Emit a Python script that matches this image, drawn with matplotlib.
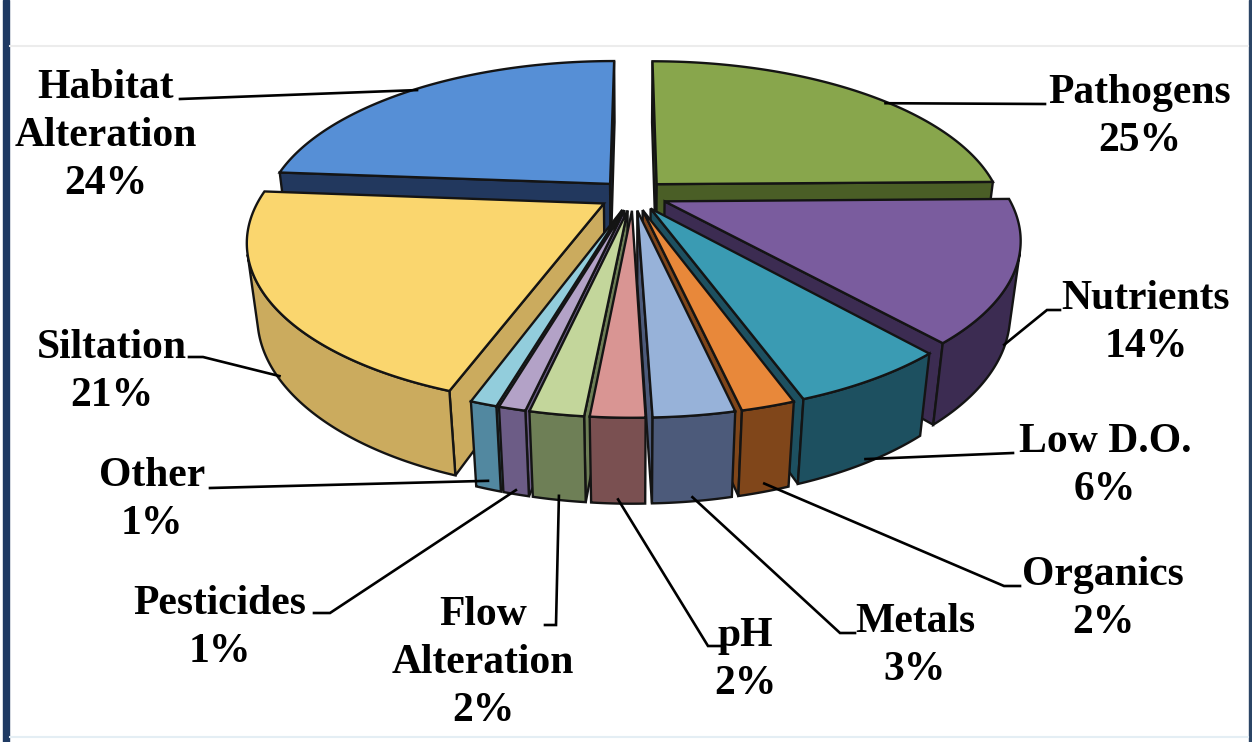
import numpy as np
import matplotlib.pyplot as plt
from matplotlib.patches import Polygon, Rectangle

# slices, clockwise from 12 o'clock
labels = ['Pathogens', 'Nutrients', 'Low D.O.', 'Organics', 'Metals', 'pH',
          'Flow\nAlteration', 'Pesticides', 'Other', 'Siltation', 'Habitat\nAlteration']
values = [25, 14, 6, 2, 3, 2, 2, 1, 1, 21, 24]

top_colors = ['#88a64c', '#7a5c9e', '#3a9bb3', '#e8883a', '#97b2d9', '#d99593',
              '#c3d69b', '#b3a2c7', '#92cddc', '#fad66e', '#568fd6']
side_colors = ['#4a5e26', '#3c2c52', '#1d5060', '#80461a', '#4c5a7a', '#7a5051',
               '#6e7f56', '#6c5c86', '#5288a0', '#cbab5e', '#22385e']

# label layout in pixels: text centre, leader points from text towards the pie
label_pos = [(1140, 117), (1146, 323), (1105, 466), (1103, 599), (915, 646),
             (745, 660), (483, 663), (220, 628), (152, 500), (112, 372), (106, 136)]
leader_from = [[(1045, 104)],
               [(1060, 310), (1047, 310)],
               [(1013, 453)],
               [(1020, 586), (1004, 586)],
               [(855, 633), (840, 633)],
               [(722, 646), (708, 646)],
               [(545, 625), (556, 625)],
               [(314, 613), (330, 613)],
               [(210, 488)],
               [(189, 357), (203, 357)],
               [(180, 99)]]
# where the leader meets the slice: (angle fraction, radius fraction, depth fraction)
anchor_spec = [(0.58, 0.99, 0), (0.5, 1.0, 0.95), (0.5, 1.0, 0.95), (0.5, 1.0, 0.9),
               (0.5, 1.0, 0.95), (0.5, 1.0, 0.95), (0.5, 1.0, 0.95), (0.5, 1.0, 0.95),
               (0.5, 1.0, 0.9), (0.5, 1.0, 0.95), (0.5, 0.99, 0)]

# simple perspective camera over a unit pie
cx, cy = 633, 195
f = 1405
D = 4.1
phi = np.radians(26.7)
s, c = np.sin(phi), np.cos(phi)
H = 0.24
explode = 0.1
cam = np.array([0, D * s, -D * c])


def proj(X, Y, Z):
    vy = Y - D * s
    vz = Z + D * c
    d = -vy * s + vz * c
    w = vy * c + vz * s
    return np.column_stack([cx + f * np.atleast_1d(X) / d, cy - f * np.atleast_1d(w) / d])


fig = plt.figure(figsize=(12.52, 7.42), dpi=100)
ax = fig.add_axes([0, 0, 1, 1])
ax.set_xlim(0, 1252)
ax.set_ylim(742, 0)
ax.axis('off')

# frame
ax.add_patch(Rectangle((3, 0), 6, 742, color='#1f3a63', zorder=0))
ax.add_patch(Rectangle((1248.5, 0), 2.5, 742, color='#2b4566', zorder=0))
ax.plot([10, 1248], [45.5, 45.5], color='#ececec', lw=1.5, zorder=0)
ax.plot([10, 1248], [737, 737], color='#e4eef4', lw=1.5, zorder=0)

fracs = np.array(values, dtype=float) / sum(values)
edges = np.concatenate([[0], np.cumsum(fracs)]) * 2 * np.pi

order = []
geo = []
for i in range(len(values)):
    t1, t2 = edges[i], edges[i + 1]
    tm = (t1 + t2) / 2
    ox, oz = explode * np.sin(tm), explode * np.cos(tm)
    geo.append((t1, t2, tm, ox, oz))
    cen = np.array([ox + 0.6 * np.sin(tm), -H / 2, oz + 0.6 * np.cos(tm)])
    order.append(np.linalg.norm(cen - cam))

z = 1
ec, lw = '#141414', 1.7
for i in np.argsort(order)[::-1]:
    t1, t2, tm, ox, oz = geo[i]
    t = np.linspace(t1, t2, 120)
    X, Z = ox + np.sin(t), oz + np.cos(t)
    apex = np.array([ox, 0, oz])
    # radial faces
    for tt, n in [(t1, np.array([-np.cos(t1), 0, np.sin(t1)])),
                  (t2, np.array([np.cos(t2), 0, -np.sin(t2)]))]:
        if np.dot(cam - apex, n) > 0:
            ex, ez = ox + np.sin(tt), oz + np.cos(tt)
            pts = np.vstack([proj(ox, 0, oz), proj(ex, 0, ez), proj(ex, -H, ez), proj(ox, -H, oz)])
            ax.add_patch(Polygon(pts, closed=True, fc=side_colors[i], ec=ec, lw=lw, zorder=z))
            z += 1
    # outer curved side, only the part facing the camera
    vis = (-X * np.sin(t) + (cam[2] - Z) * np.cos(t)) > 0
    if vis.sum() > 1:
        top = proj(X[vis], 0, Z[vis])
        bot = proj(X[vis], -H, Z[vis])
        ax.add_patch(Polygon(np.vstack([top, bot[::-1]]), closed=True,
                             fc=side_colors[i], ec=ec, lw=lw, zorder=z))
        z += 1
    pts = np.vstack([proj(ox, 0, oz), proj(X, 0, Z)])
    ax.add_patch(Polygon(pts, closed=True, fc=top_colors[i], ec=ec, lw=lw, zorder=z))
    z += 1

# labels and leader lines
for i, lab in enumerate(labels):
    t1, t2, tm, ox, oz = geo[i]
    af, r, yf = anchor_spec[i]
    ta = t1 + af * (t2 - t1)
    a = proj(ox + r * np.sin(ta), -yf * H, oz + r * np.cos(ta))[0]
    pts = np.array(leader_from[i] + [tuple(a)])
    ax.plot(pts[:, 0], pts[:, 1], color='black', lw=1.9, zorder=200,
            solid_joinstyle='miter')
    ax.text(label_pos[i][0], label_pos[i][1], '%s\n%d%%' % (lab, values[i]),
            ha='center', va='center', ma='center', fontsize=30, fontweight='bold',
            family='Liberation Serif', linespacing=1.33, zorder=201)

fig.savefig('out.png', dpi=100)
